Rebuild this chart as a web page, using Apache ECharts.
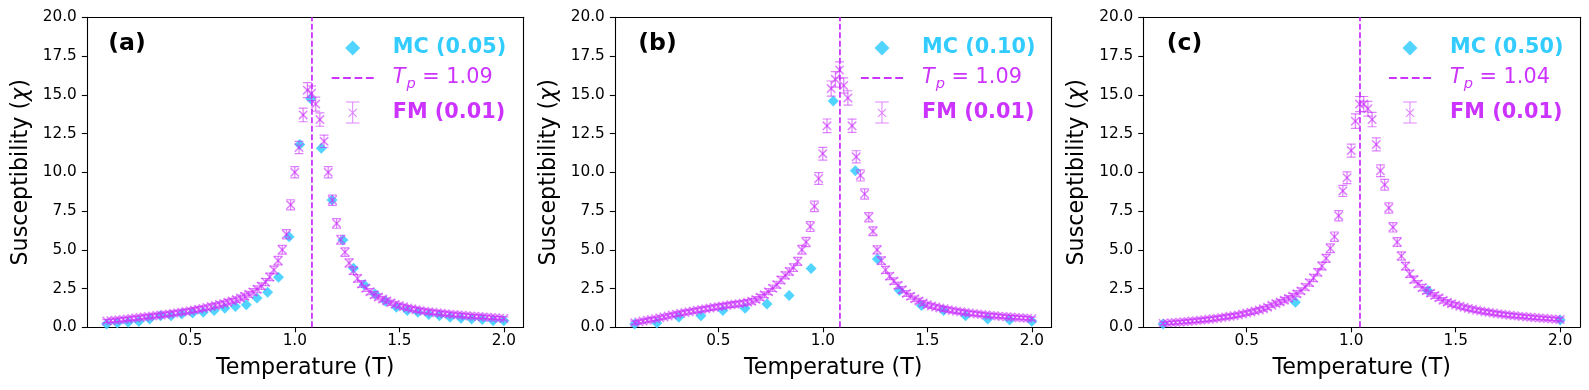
<!DOCTYPE html>
<html>
<head>
<meta charset="utf-8">
<script src="https://cdn.jsdelivr.net/npm/echarts@6/dist/echarts.min.js"></script>
<style>
html,body{margin:0;padding:0;background:#ffffff;}
#chart{width:1589px;height:390px;}
</style>
</head>
<body>
<div id="chart"></div>
<script>
// ---------------- data ----------------
const fmT = [
  0.10,0.12,0.14,0.16,0.18,0.20,0.22,0.24,0.26,0.28,
  0.30,0.32,0.34,0.36,0.38,0.40,0.42,0.44,0.46,0.48,
  0.50,0.52,0.54,0.56,0.58,0.60,0.62,0.64,0.66,0.68,
  0.70,0.72,0.74,0.76,0.78,0.80,0.82,0.84,0.86,0.88,
  0.90,0.92,0.94,0.96,0.98,1.00,1.02,1.04,1.06,1.08,
  1.10,1.12,1.14,1.16,1.18,1.20,1.22,1.24,1.26,1.28,
  1.30,1.32,1.34,1.36,1.38,1.40,1.42,1.44,1.46,1.48,
  1.50,1.52,1.54,1.56,1.58,1.60,1.62,1.64,1.66,1.68,
  1.70,1.72,1.74,1.76,1.78,1.80,1.82,1.84,1.86,1.88,
  1.90,1.92,1.94,1.96,1.98,2.00
];
const fmA = [
  0.40,0.42,0.45,0.48,0.51,0.54,0.57,0.60,0.63,0.67,
  0.70,0.73,0.76,0.79,0.83,0.86,0.90,0.94,0.98,1.02,
  1.07,1.12,1.17,1.22,1.28,1.34,1.40,1.47,1.54,1.62,
  1.70,1.79,1.89,2.00,2.13,2.28,2.45,2.66,2.92,3.25,
  3.70,4.30,5.00,6.00,7.90,10.0,11.6,13.7,15.3,15.1,
  14.4,13.4,12.0,10.0,8.2,6.7,5.65,4.85,4.15,3.65,
  3.15,2.80,2.52,2.30,2.10,1.95,1.82,1.70,1.58,1.48,
  1.40,1.32,1.25,1.19,1.13,1.08,1.04,1.00,0.97,0.94,
  0.91,0.88,0.85,0.82,0.80,0.78,0.75,0.73,0.71,0.69,
  0.67,0.65,0.63,0.61,0.59,0.57
];
const errA = [
  0.10,0.11,0.10,0.11,0.12,0.11,0.12,0.12,0.11,0.13,
  0.12,0.13,0.12,0.13,0.14,0.13,0.14,0.13,0.14,0.15,
  0.14,0.15,0.16,0.15,0.16,0.17,0.16,0.17,0.16,0.18,
  0.17,0.18,0.19,0.20,0.19,0.21,0.22,0.21,0.23,0.24,
  0.25,0.27,0.28,0.30,0.33,0.36,0.40,0.44,0.48,0.47,
  0.45,0.43,0.40,0.36,0.33,0.31,0.29,0.27,0.26,0.24,
  0.23,0.22,0.21,0.20,0.20,0.19,0.18,0.18,0.17,0.17,
  0.16,0.16,0.15,0.15,0.15,0.14,0.14,0.14,0.13,0.13,
  0.13,0.13,0.12,0.12,0.12,0.12,0.12,0.11,0.11,0.11,
  0.11,0.11,0.10,0.10,0.10,0.10
];
const fmB = [
  0.30,0.35,0.40,0.45,0.50,0.55,0.61,0.67,0.73,0.79,
  0.85,0.90,0.95,1.00,1.05,1.10,1.15,1.19,1.24,1.29,
  1.33,1.37,1.41,1.45,1.49,1.52,1.56,1.61,1.68,1.80,
  1.94,2.10,2.30,2.52,2.75,3.05,3.35,3.60,3.85,4.25,
  5.00,5.50,6.50,7.80,9.60,11.2,13.0,15.4,16.0,16.6,
  15.6,14.8,13.0,11.0,9.8,8.6,7.1,6.2,5.0,4.3,
  3.70,3.30,2.98,2.70,2.42,2.18,2.00,1.84,1.70,1.57,
  1.46,1.38,1.31,1.25,1.19,1.14,1.09,1.04,1.00,0.96,
  0.92,0.89,0.86,0.83,0.80,0.77,0.75,0.72,0.70,0.68,
  0.66,0.64,0.62,0.60,0.58,0.56
];
const errB = [
  0.10,0.10,0.11,0.11,0.12,0.11,0.12,0.12,0.13,0.12,
  0.13,0.13,0.14,0.13,0.14,0.14,0.15,0.14,0.15,0.15,
  0.15,0.16,0.15,0.16,0.17,0.16,0.17,0.17,0.18,0.18,
  0.19,0.19,0.20,0.21,0.22,0.23,0.23,0.24,0.25,0.26,
  0.28,0.30,0.32,0.34,0.38,0.41,0.44,0.49,0.50,0.52,
  0.49,0.46,0.43,0.39,0.36,0.33,0.30,0.28,0.26,0.24,
  0.23,0.22,0.21,0.21,0.20,0.19,0.19,0.18,0.18,0.17,
  0.17,0.16,0.16,0.15,0.15,0.15,0.14,0.14,0.14,0.13,
  0.13,0.13,0.12,0.12,0.12,0.12,0.12,0.11,0.11,0.11,
  0.11,0.11,0.10,0.10,0.10,0.10
];
const fmC = [
  0.25,0.27,0.29,0.31,0.33,0.36,0.38,0.41,0.43,0.46,
  0.49,0.52,0.55,0.59,0.63,0.67,0.71,0.75,0.80,0.86,
  0.92,0.98,1.05,1.12,1.20,1.30,1.42,1.53,1.63,1.75,
  1.87,2.00,2.16,2.35,2.60,2.88,3.18,3.55,3.95,4.45,
  5.10,5.85,7.20,8.80,9.65,11.4,13.3,14.4,14.4,14.1,
  13.4,11.8,10.1,9.2,7.7,6.45,5.5,4.6,3.95,3.45,
  3.08,2.80,2.56,2.37,2.20,2.05,1.90,1.74,1.62,1.52,
  1.44,1.36,1.29,1.22,1.16,1.10,1.05,1.00,0.96,0.92,
  0.88,0.84,0.81,0.78,0.75,0.72,0.70,0.67,0.65,0.62,
  0.60,0.58,0.56,0.54,0.52,0.50
];
const errC = [
  0.09,0.09,0.10,0.10,0.10,0.10,0.11,0.11,0.11,0.11,
  0.12,0.12,0.12,0.12,0.12,0.13,0.13,0.13,0.13,0.14,
  0.14,0.14,0.15,0.15,0.15,0.16,0.16,0.17,0.17,0.18,
  0.18,0.19,0.20,0.20,0.21,0.22,0.23,0.24,0.25,0.26,
  0.28,0.30,0.33,0.36,0.38,0.42,0.47,0.49,0.49,0.48,
  0.46,0.42,0.38,0.35,0.33,0.30,0.28,0.26,0.24,0.23,
  0.22,0.21,0.21,0.20,0.19,0.19,0.18,0.18,0.17,0.17,
  0.16,0.16,0.15,0.15,0.15,0.14,0.14,0.14,0.13,0.13,
  0.13,0.12,0.12,0.12,0.12,0.11,0.11,0.11,0.11,0.11,
  0.10,0.10,0.10,0.10,0.10,0.10
];

const mcTA = [0.100,0.151,0.203,0.254,0.305,0.357,0.408,0.459,0.511,0.562,
              0.614,0.665,0.716,0.768,0.819,0.870,0.922,0.973,1.024,1.076,
              1.127,1.178,1.230,1.281,1.332,1.384,1.435,1.486,1.538,1.589,
              1.641,1.692,1.743,1.795,1.846,1.897,1.949,2.000];
const mcA  = [0.22,0.28,0.32,0.37,0.54,0.75,0.75,0.86,0.93,0.97,
              1.08,1.23,1.34,1.46,1.89,2.26,3.23,5.85,11.8,14.75,
              11.55,8.22,5.64,3.81,2.75,2.15,1.68,1.29,1.08,0.97,
              0.82,0.75,0.65,0.58,0.54,0.50,0.43,0.43];
const mcTB = [0.100,0.206,0.311,0.417,0.522,0.628,0.733,0.839,0.944,1.050,
              1.156,1.261,1.367,1.472,1.578,1.683,1.789,1.894,2.000];
const mcB  = [0.22,0.28,0.65,0.75,1.08,1.23,1.51,2.05,3.80,14.6,
              10.1,4.41,2.37,1.40,1.08,0.75,0.54,0.47,0.39];
const mcTC = [0.100,0.733,1.367,2.000];
const mcC  = [0.22,1.61,2.37,0.47];

const tpPos   = [1.082, 1.082, 1.042];
const tpText  = ['1.09', '1.09', '1.04'];
const mcNames = ['MC (0.05)', 'MC (0.10)', 'MC (0.50)'];
const fmName  = 'FM (0.01)';
const letters = ['(a)', '(b)', '(c)'];
const xTickValues = [0.5, 1.0, 1.5, 2.0];
const xRange = [0.005, 2.095];
const yRange = [0, 20];
const yStep = 2.5;

// ---------------- style / layout ----------------
const CYAN = '#33ccff', PURPLE = '#cc33ff', FONT = 'DejaVu Sans';
const gridLeft = [86.85, 614.85, 1143.25], gridW = 436.8, gridTop = 17.3, gridH = 310;
const legendLeft = [331.7, 861, 1389];
const titleLeft = [108.3, 638.3, 1166.7];

const panels = [
  {fm: fmA, err: errA, mcT: mcTA, mc: mcA},
  {fm: fmB, err: errB, mcT: mcTB, mc: mcB},
  {fm: fmC, err: errC, mcT: mcTC, mc: mcC}
];

const DIAMOND_ICON = 'path://M7.5,0L15,7.5L7.5,15L0,7.5z';
const DASH_ICON = 'path://M0,0h7.7v2h-7.7zM11.3,0h7.7v2h-7.7zM22.7,0h7.7v2h-7.7zM34,0h7.7v2h-7.7z';
const ERR_ICON = 'path://M6.15,0h1v21.6h-1zM0,0h13.3v1h-13.3zM0,20.6h13.3v1h-13.3z' +
  'M2.3,7.5L3.0,6.8L11.0,14.8L10.3,15.5zM10.3,6.8L11.0,7.5L3.0,15.5L2.3,14.8z';
// legend content is placed by its bounding box: compensate the empty side of narrow icons
const ICON_W = 42;
const diamondInset = (ICON_W - 15) / 2;
const errInset = (ICON_W - 13.3 * 22 / 21.6) / 2;

function renderFM(params, api) {
  const x = api.value(0), y = api.value(1), e = api.value(2);
  const c = api.coord([x, y]);
  const hi = api.coord([x, y + e]);
  const lo = api.coord([x, y - e]);
  const cw = 4.5, m = 4.2;
  const st = {stroke: PURPLE, lineWidth: 1.2, opacity: 0.62, fill: null};
  const sx = {stroke: PURPLE, lineWidth: 1.5, opacity: 0.62, fill: null};
  return {
    type: 'group',
    children: [
      {type: 'line', shape: {x1: c[0], y1: hi[1], x2: c[0], y2: lo[1]}, style: st},
      {type: 'line', shape: {x1: c[0] - cw, y1: hi[1], x2: c[0] + cw, y2: hi[1]}, style: st},
      {type: 'line', shape: {x1: c[0] - cw, y1: lo[1], x2: c[0] + cw, y2: lo[1]}, style: st},
      {type: 'line', shape: {x1: c[0] - m, y1: c[1] - m, x2: c[0] + m, y2: c[1] + m}, style: sx},
      {type: 'line', shape: {x1: c[0] - m, y1: c[1] + m, x2: c[0] + m, y2: c[1] - m}, style: sx}
    ]
  };
}

const grid = [], xAxis = [], yAxis = [], series = [], legend = [], title = [];
const axisLineStyle = {color: '#000', width: 1.1};

panels.forEach((p, i) => {
  grid.push({left: gridLeft[i], top: gridTop, width: gridW, height: gridH, containLabel: false});
  xAxis.push({
    gridIndex: i, type: 'value', position: 'bottom', min: xRange[0], max: xRange[1],
    axisLine: {show: true, onZero: false, lineStyle: axisLineStyle},
    axisTick: {show: true, length: 5, inside: false, customValues: xTickValues, lineStyle: axisLineStyle},
    axisLabel: {show: true, customValues: xTickValues, formatter: v => Number(v).toFixed(1),
      fontSize: 15.3, fontFamily: FONT, color: '#000', margin: 6},
    splitLine: {show: false},
    name: 'Temperature (T)', nameLocation: 'middle', nameGap: 30,
    nameTextStyle: {fontSize: 22.2, fontFamily: FONT, color: '#000'}
  });
  xAxis.push({
    gridIndex: i, type: 'value', position: 'top', min: xRange[0], max: xRange[1],
    axisLine: {show: true, onZero: false, lineStyle: axisLineStyle},
    axisTick: {show: false}, axisLabel: {show: false}, splitLine: {show: false}
  });
  yAxis.push({
    gridIndex: i, type: 'value', position: 'left', min: yRange[0], max: yRange[1], interval: yStep,
    axisLine: {show: true, onZero: false, lineStyle: axisLineStyle},
    axisTick: {show: true, length: 5, inside: false, lineStyle: axisLineStyle},
    axisLabel: {show: true, formatter: v => Number(v).toFixed(1), fontSize: 15.3, fontFamily: FONT,
      color: '#000', margin: 10},
    splitLine: {show: false},
    name: 'Susceptibility ({i|χ})', nameLocation: 'middle', nameGap: 55, nameRotate: 90,
    nameTextStyle: {fontSize: 22.2, fontFamily: FONT, color: '#000',
      rich: {i: {fontSize: 22.2, fontFamily: FONT, fontStyle: 'italic', color: '#000'}}}
  });
  yAxis.push({
    gridIndex: i, type: 'value', position: 'right', min: yRange[0], max: yRange[1], interval: yStep,
    axisLine: {show: true, onZero: false, lineStyle: axisLineStyle},
    axisTick: {show: false}, axisLabel: {show: false}, splitLine: {show: false}
  });

  series.push({
    name: mcNames[i], type: 'scatter', xAxisIndex: 2 * i, yAxisIndex: 2 * i,
    symbol: 'diamond', symbolSize: 11,
    itemStyle: {color: CYAN, opacity: 0.85},
    data: p.mcT.map((t, k) => [t, p.mc[k]]),
    z: 2, silent: true
  });
  series.push({
    name: 'Tp_' + i, type: 'line', xAxisIndex: 2 * i, yAxisIndex: 2 * i,
    symbol: 'none', showSymbol: false,
    lineStyle: {color: PURPLE, width: 1.8, type: [6, 2.5]},
    itemStyle: {color: PURPLE},
    data: [[tpPos[i], yRange[0]], [tpPos[i], yRange[1]]],
    z: 3, silent: true
  });
  series.push({
    name: fmName, type: 'custom', xAxisIndex: 2 * i, yAxisIndex: 2 * i,
    renderItem: renderFM, clip: true,
    itemStyle: {color: PURPLE},
    encode: {x: 0, y: 1},
    data: fmT.map((t, k) => [t, p.fm[k], p.err[k]]),
    z: 4, silent: true
  });

  const gap = {g: {width: 14, fontSize: 10}};
  legend.push({
    left: legendLeft[i] + diamondInset, top: 37.5, orient: 'vertical', padding: 0, selectedMode: false,
    itemWidth: ICON_W, itemHeight: 15, symbolKeepAspect: true,
    data: [{name: mcNames[i], icon: DIAMOND_ICON, itemStyle: {color: CYAN, opacity: 0.85}}],
    formatter: n => '{g| }' + n,
    textStyle: {fontFamily: FONT, fontSize: 20.8, color: CYAN, fontWeight: 'bold', rich: gap}
  });
  legend.push({
    left: legendLeft[i], top: 64.5, orient: 'vertical', padding: 0, selectedMode: false,
    itemWidth: ICON_W, itemHeight: 15, symbolKeepAspect: true,
    data: [{name: 'Tp_' + i, icon: DASH_ICON, itemStyle: {color: PURPLE}}],
    formatter: () => '{g| }{it|T}{sub|p}{rm| = ' + tpText[i] + '}',
    textStyle: {fontFamily: FONT, fontSize: 20.8, color: PURPLE,
      rich: {
        g: {width: 14, fontSize: 10},
        it: {fontFamily: FONT, fontSize: 20.8, fontStyle: 'italic', color: PURPLE, lineHeight: 22},
        sub: {fontFamily: FONT, fontSize: 14.6, fontStyle: 'italic', color: PURPLE, lineHeight: 14, padding: [12, 0, 0, 1]},
        rm: {fontFamily: FONT, fontSize: 20.8, color: PURPLE, lineHeight: 22}
      }}
  });
  legend.push({
    left: legendLeft[i] + errInset, top: 101.5, orient: 'vertical', padding: 0, selectedMode: false,
    itemWidth: ICON_W, itemHeight: 22, symbolKeepAspect: true,
    data: [{name: fmName, icon: ERR_ICON, itemStyle: {color: PURPLE, opacity: 0.6}}],
    formatter: n => '{g| }' + n,
    textStyle: {fontFamily: FONT, fontSize: 20.8, color: PURPLE, fontWeight: 'bold', rich: gap}
  });

  title.push({
    text: letters[i], left: titleLeft[i], top: 31.5, padding: 0,
    textStyle: {fontFamily: FONT, fontSize: 23.6, fontWeight: 'bold', color: '#000'}
  });
});

const chart = echarts.init(document.getElementById('chart'), null, {renderer: 'canvas'});
chart.setOption({
  backgroundColor: '#ffffff',
  animation: false,
  textStyle: {fontFamily: FONT},
  title: title,
  legend: legend,
  grid: grid,
  xAxis: xAxis,
  yAxis: yAxis,
  series: series
});
</script>
</body>
</html>
